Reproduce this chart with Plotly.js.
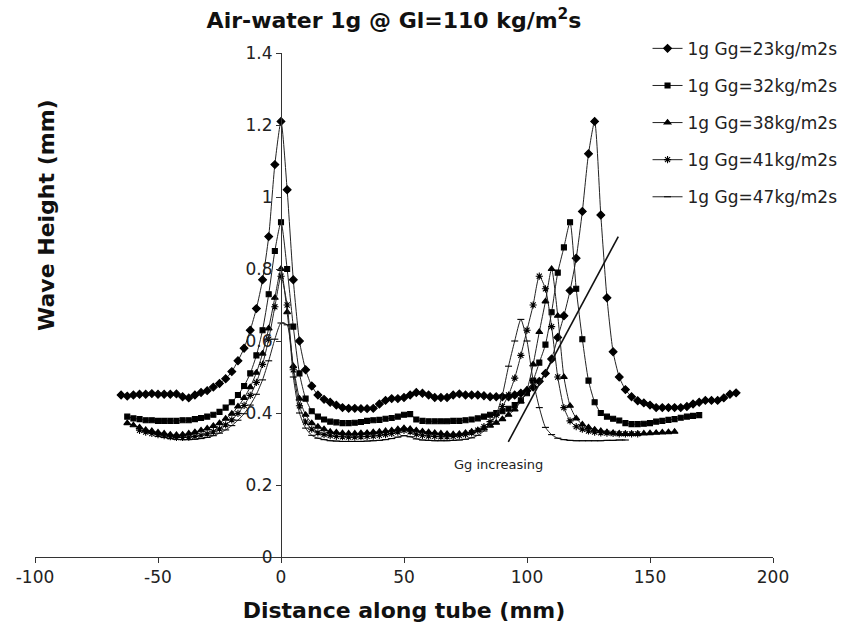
<!DOCTYPE html>
<html>
<head>
<meta charset="utf-8">
<script src="https://cdn.plot.ly/plotly-3.0.1.min.js"></script>
<style>html,body{margin:0;padding:0;background:#fff;}#chart{width:844px;height:635px;}</style>
</head>
<body>
<div id="chart"></div>
<script>
// Shared distance grid (mm)
var distance = [
  -65, -62.5, -60, -57.5, -55, -52.5, -50, -47.5, -45, -42.5,
  -40, -37.5, -35, -32.5, -30, -27.5, -25, -22.5, -20, -17.5,
  -15, -12.5, -10, -7.5, -5, -2.5, 0, 2.5, 5, 7.5,
  10, 12.5, 15, 17.5, 20, 22.5, 25, 27.5, 30, 32.5,
  35, 37.5, 40, 42.5, 45, 47.5, 50, 52.5, 55, 57.5,
  60, 62.5, 65, 67.5, 70, 72.5, 75, 77.5, 80, 82.5,
  85, 87.5, 90, 92.5, 95, 97.5, 100, 102.5, 105, 107.5,
  110, 112.5, 115, 117.5, 120, 122.5, 125, 127.5, 130, 132.5,
  135, 137.5, 140, 142.5, 145, 147.5, 150, 152.5, 155, 157.5,
  160, 162.5, 165, 167.5, 170, 172.5, 175, 177.5, 180, 182.5,
  185
];

var seriesNames = ['1g Gg=23kg/m2s', '1g Gg=32kg/m2s', '1g Gg=38kg/m2s', '1g Gg=41kg/m2s', '1g Gg=47kg/m2s'];

var gg23 = [
  0.450, 0.447, 0.450, 0.452, 0.452, 0.454, 0.452, 0.452, 0.452, 0.453,
  0.445, 0.442, 0.450, 0.457, 0.462, 0.472, 0.482, 0.495, 0.515, 0.545,
  0.580, 0.630, 0.690, 0.770, 0.890, 1.090, 1.210, 1.020, 0.770, 0.600,
  0.520, 0.475, 0.450, 0.438, 0.430, 0.422, 0.415, 0.413, 0.413, 0.412,
  0.412, 0.413, 0.425, 0.435, 0.440, 0.440, 0.443, 0.450, 0.457, 0.455,
  0.450, 0.443, 0.443, 0.443, 0.450, 0.453, 0.450, 0.450, 0.450, 0.448,
  0.445, 0.445, 0.445, 0.445, 0.450, 0.455, 0.462, 0.472, 0.488, 0.510,
  0.550, 0.610, 0.670, 0.740, 0.830, 0.960, 1.120, 1.210, 0.950, 0.720,
  0.570, 0.500, 0.465, 0.445, 0.434, 0.428, 0.422, 0.415, 0.415, 0.415,
  0.415, 0.415, 0.418, 0.425, 0.430, 0.435, 0.435, 0.435, 0.442, 0.452,
  0.456
];

var gg32 = [
  null, 0.390, 0.385, 0.383, 0.380, 0.380, 0.378, 0.378, 0.378, 0.378,
  0.380, 0.380, 0.383, 0.386, 0.390, 0.395, 0.403, 0.415, 0.430, 0.450,
  0.475, 0.510, 0.560, 0.630, 0.730, 0.850, 0.930, 0.800, 0.640, 0.510,
  0.440, 0.405, 0.390, 0.382, 0.376, 0.374, 0.372, 0.372, 0.373, 0.375,
  0.378, 0.380, 0.381, 0.384, 0.386, 0.390, 0.395, 0.397, 0.382, 0.378,
  0.377, 0.377, 0.377, 0.377, 0.378, 0.378, 0.380, 0.382, 0.385, 0.390,
  0.395, 0.400, 0.405, 0.412, 0.422, 0.435, 0.455, 0.490, 0.540, 0.590,
  0.680, 0.790, 0.860, 0.930, 0.745, 0.605, 0.490, 0.430, 0.400, 0.390,
  0.384, 0.379, 0.372, 0.369, 0.369, 0.370, 0.372, 0.376, 0.378, 0.381,
  0.383, 0.387, 0.390, 0.392, 0.394, null, null, null, null, null,
  null
];

var gg38 = [
  null, 0.372, 0.366, 0.360, 0.353, 0.350, 0.346, 0.343, 0.340, 0.339,
  0.340, 0.343, 0.347, 0.352, 0.357, 0.364, 0.372, 0.384, 0.398, 0.418,
  0.442, 0.472, 0.512, 0.565, 0.635, 0.720, 0.800, 0.680, 0.530, 0.440,
  0.395, 0.372, 0.362, 0.355, 0.348, 0.346, 0.344, 0.343, 0.343, 0.344,
  0.345, 0.347, 0.348, 0.350, 0.352, 0.355, 0.358, 0.356, 0.352, 0.349,
  0.347, 0.345, 0.343, 0.342, 0.341, 0.342, 0.345, 0.348, 0.352, 0.358,
  0.365, 0.373, 0.383, 0.395, 0.410, 0.432, 0.465, 0.535, 0.625, 0.710,
  0.800, 0.670, 0.500, 0.420, 0.385, 0.368, 0.360, 0.354, 0.350, 0.347,
  0.345, 0.343, 0.342, 0.342, 0.342, 0.343, 0.344, 0.345, 0.346, 0.347,
  0.348, null, null, null, null, null, null, null, null, null,
  null
];

var gg41 = [
  null, null, null, 0.352, 0.347, 0.343, 0.340, 0.337, 0.334, 0.332,
  0.332, 0.333, 0.335, 0.338, 0.342, 0.348, 0.356, 0.367, 0.381, 0.399,
  0.421, 0.449, 0.485, 0.535, 0.605, 0.695, 0.780, 0.700, 0.520, 0.420,
  0.375, 0.355, 0.345, 0.340, 0.337, 0.335, 0.334, 0.333, 0.333, 0.334,
  0.335, 0.336, 0.338, 0.340, 0.343, 0.347, 0.352, 0.348, 0.341, 0.338,
  0.336, 0.335, 0.334, 0.334, 0.335, 0.337, 0.340, 0.345, 0.352, 0.362,
  0.376, 0.394, 0.418, 0.450, 0.497, 0.560, 0.630, 0.700, 0.780, 0.745,
  0.640, 0.500, 0.415, 0.378, 0.362, 0.355, 0.350, 0.347, 0.345, 0.344,
  0.343, 0.342, 0.342, 0.342, 0.342, null, null, null, null, null,
  null, null, null, null, null, null, null, null, null, null,
  null
];

var gg47 = [
  null, null, null, null, null, null, 0.335, 0.332, 0.329, 0.327,
  0.326, 0.326, 0.327, 0.329, 0.332, 0.337, 0.344, 0.353, 0.365, 0.380,
  0.398, 0.422, 0.452, 0.492, 0.545, 0.605, 0.650, 0.645, 0.500, 0.400,
  0.358, 0.338, 0.330, 0.326, 0.323, 0.322, 0.321, 0.321, 0.321, 0.321,
  0.322, 0.323, 0.324, 0.326, 0.329, 0.333, 0.337, 0.334, 0.328, 0.325,
  0.324, 0.323, 0.323, 0.323, 0.324, 0.325, 0.327, 0.331, 0.338, 0.350,
  0.368, 0.395, 0.450, 0.530, 0.600, 0.660, 0.600, 0.490, 0.415, 0.360,
  0.340, 0.330, 0.326, 0.324, 0.323, 0.323, 0.323, 0.323, 0.323, 0.324,
  0.324, 0.325, 0.325, null, null, null, null, null, null, null,
  null, null, null, null, null, null, null, null, null, null,
  null
];

// "Gg increasing" guide line
var trendX = [92.4, 137.1];
var trendY = [0.32, 0.89];

var xTickVals = [-100, -50, 0, 50, 100, 150, 200];
var xTickText = ['-100', '-50', '0', '50', '100', '150', '200'];

var FONT = 'DejaVu Sans, Arial, sans-serif';
var allY = [gg23, gg32, gg38, gg41, gg47];
var symbols = ['diamond', 'square', 'triangle-up', 'asterisk-open', 'line-ew-open'];
var sizes = [6, 5, 6, 6, 5];

var traces = allY.map(function (ys, k) {
  return {
    x: distance, y: ys, name: seriesNames[k], type: 'scatter', mode: 'lines+markers',
    legendgroup: 'g' + k,
    line: {color: '#222', width: 1, shape: 'spline', smoothing: 0.6},
    marker: {symbol: symbols[k], size: sizes[k], color: '#000', line: {color: '#000', width: 1.1}},
    connectgaps: false
  };
});
traces.push({
  x: trendX, y: trendY, type: 'scatter', mode: 'lines', showlegend: false,
  line: {color: '#111', width: 1.6}
});

var layout = {
  width: 844, height: 635,
  margin: {l: 35, r: 71, t: 53, b: 78, autoexpand: false},
  paper_bgcolor: '#fff', plot_bgcolor: '#fff',
  font: {family: FONT, color: '#222'},
  showlegend: true,
  title: {
    text: '<b>Air-water 1g @ Gl=110 kg/m<sup>2</sup>s</b>',
    font: {family: FONT, size: 22, color: '#111'},
    xref: 'paper', x: 0.4865, xanchor: 'center',
    yref: 'container', y: 0.968, yanchor: 'middle'
  },
  xaxis: {
    range: [-100, 200], tickvals: xTickVals, ticktext: xTickText,
    showline: true, linecolor: '#333', linewidth: 1,
    ticks: 'outside', ticklen: 5, tickcolor: '#333',
    showgrid: false, zeroline: false,
    tickfont: {family: FONT, size: 17, color: '#222'},
    title: {text: '<b>Distance along tube (mm)</b>', font: {family: FONT, size: 22, color: '#111'}, standoff: 16}
  },
  yaxis: {
    range: [0, 1.4], dtick: 0.2, anchor: 'free', position: 1 / 3,
    showline: true, linecolor: '#333', linewidth: 1,
    ticks: 'outside', ticklen: 5, tickcolor: '#333',
    showgrid: false, zeroline: false,
    tickfont: {family: FONT, size: 17, color: '#222'}
  },
  legend: {
    x: 0.830, y: 1.044, xanchor: 'left', yanchor: 'top',
    font: {family: FONT, size: 17, color: '#222'},
    bgcolor: 'rgba(0,0,0,0)', tracegroupgap: 12, traceorder: 'grouped'
  },
  annotations: [
    {
      text: '<b>Wave Height (mm)</b>', textangle: -90, showarrow: false,
      xref: 'paper', yref: 'paper', x: 0.0163, y: 0.6786, xanchor: 'center', yanchor: 'middle',
      font: {family: FONT, size: 22, color: '#111'}
    },
    {
      text: 'Gg increasing', showarrow: false, xref: 'x', yref: 'y',
      x: 88.6, y: 0.258, xanchor: 'center', yanchor: 'middle',
      font: {family: FONT, size: 13, color: '#222'}
    }
  ]
};

Plotly.newPlot('chart', traces, layout, {staticPlot: true, displayModeBar: false});
</script>
</body>
</html>
